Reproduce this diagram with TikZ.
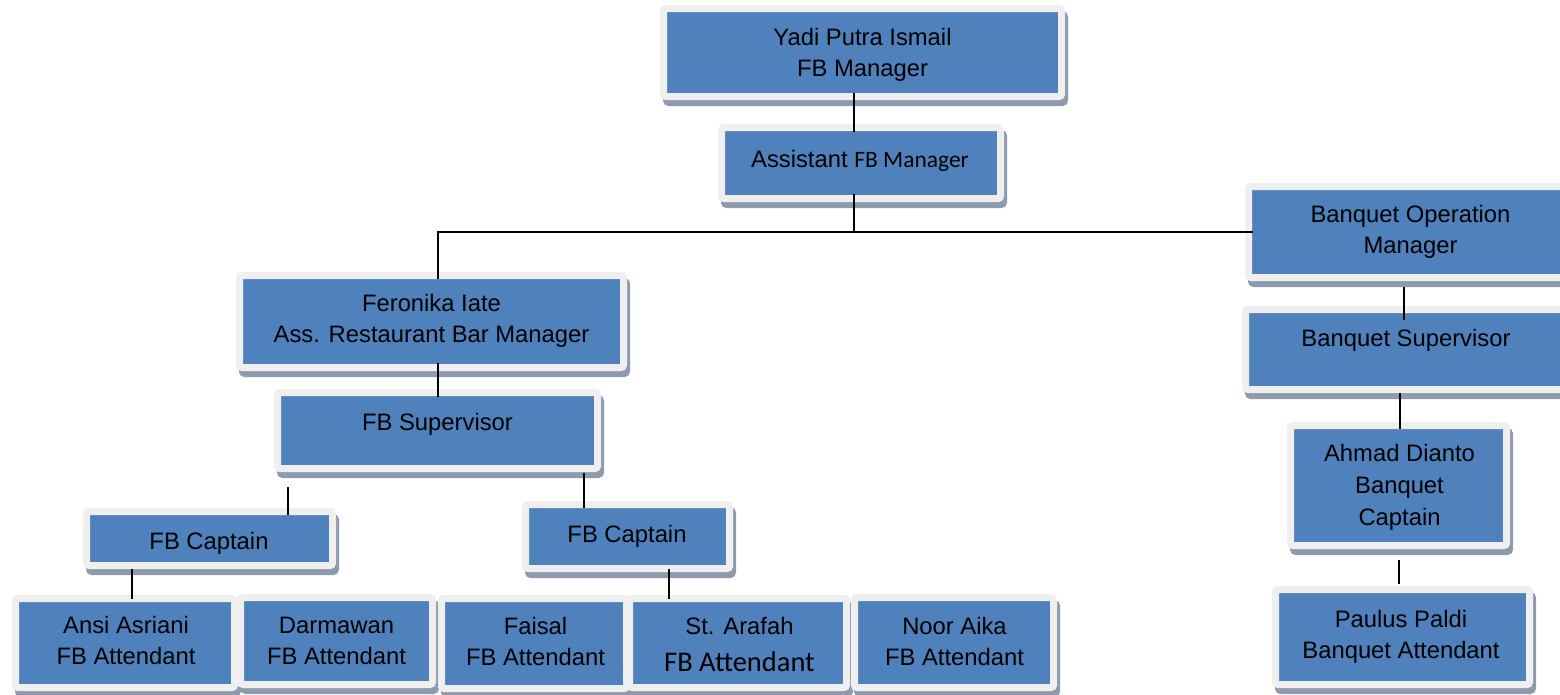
\documentclass[tikz,border=0pt]{standalone}
\usepackage{fontspec}
\setmainfont{Liberation Sans}
\newfontfamily\calib{Carlito}
\definecolor{boxblue}{HTML}{4F81BD}
\definecolor{framec}{HTML}{EFEFEF}
\definecolor{shadowc}{HTML}{8E9BAF}
\newcommand\orgbox[5]{%
  \pgfmathsetmacro\obW{#4-#2-7}%
  \pgfmathsetmacro\obH{#5-#3-7}%
  \pgfmathsetmacro\obX{(#2+#4)/2}%
  \pgfmathsetmacro\obY{(#3+#5)/2}%
  \node[boxstyle, minimum width=\obW pt, minimum height=\obH pt] (#1) at (\obX,\obY) {};%
}
\begin{document}
\begin{tikzpicture}[x=1pt,y=-1pt,
  boxstyle/.style={rectangle, fill=boxblue, draw=framec, line width=7pt,
    rounded corners=2.5pt, inner sep=0pt, outer sep=0pt,
    preaction={fill=shadowc, draw=shadowc, transform canvas={shift={(3pt,-6pt)}}}},
  txt/.style={align=center, inner sep=0pt, text=black, yshift=-3.5pt,
    font=\fontsize{23.8}{31}\selectfont,
    execute at begin node=\strut, execute at end node=\strut},
  conn/.style={line width=1.6pt, draw=black}]
\useasboundingbox (0,0) rectangle (1560,694);
\fill[white] (0,0) rectangle (1560,694);
% boxes (outer frame coordinates)
\orgbox{top}{660}{5}{1065}{100}
\orgbox{asst}{718}{124}{1004}{202}
\orgbox{bom}{1245}{183}{1575}{281}
\orgbox{bsup}{1242}{306}{1575}{393}
\orgbox{fer}{236}{272}{627}{371}
\orgbox{sup}{274}{389}{601}{472}
\orgbox{cap1}{83}{508}{336}{569}
\orgbox{cap2}{522}{501}{733}{572}
\orgbox{ansi}{12}{595}{238}{691}
\orgbox{darm}{237}{594}{436}{688}
\orgbox{fais}{438}{595}{630}{692}
\orgbox{araf}{626}{595}{850}{691}
\orgbox{noor}{851}{594}{1057}{691}
\orgbox{ahmad}{1287}{422}{1510}{549}
\orgbox{paulus}{1272}{586}{1533}{688}
% texts
\node[txt] (t-top) at (862.5,53.8) {Yadi Putra Ismail\\FB Manager};
\node[txt] (t-asst) at (860,157.8) {Assistant {\calib\fontsize{23.5}{31}\selectfont FB Manager}};
\node[txt] (t-bom) at (1410.5,231) {Banquet Operation\\Manager};
\node[txt] (t-bsup) at (1406,336.8) {Banquet Supervisor};
\node[txt] (t-fer) at (431.5,319.6) {Feronika Iate\\Ass. Restaurant Bar Manager};
\node[txt] (t-sup) at (437.5,420.8) {FB Supervisor};
\node[txt] (t-cap1) at (209,539.5) {FB Captain};
\node[txt] (t-cap2) at (627,532.8) {FB Captain};
\node[txt] (t-ansi) at (126,641.6) {Ansi Asriani\\FB Attendant};
\node[txt] (t-darm) at (336.5,641.6) {Darmawan\\FB Attendant};
\node[txt] (t-fais) at (535.5,642.1) {Faisal\\FB Attendant};
\node[txt] (t-araf) at (739.5,645.4) {St. Arafah\\[5.7pt]{\calib\fontsize{28.5}{31}\selectfont FB Attendant}};
\node[txt] (t-noor) at (954.5,642.1) {Noor Aika\\FB Attendant};
\node[txt, font=\fontsize{23.8}{31.7}\selectfont] (t-ahmad) at (1399.5,486.1) {Ahmad Dianto\\Banquet\\Captain};
\node[txt] (t-paulus) at (1401,635.4) {Paulus Paldi\\Banquet Attendant};
% connectors
\coordinate (xa) at (854,0);
\draw[conn, shorten <=-3.5pt, shorten >=-4.5pt] (xa |- top.south) -- (xa |- asst.north);
\draw[conn, shorten <=-4.5pt] (xa |- asst.south) -- (xa |- bom.west);
\coordinate (xb) at (438,0);
\draw[conn, shorten <=-3.5pt, shorten >=-4.5pt] (xb |- fer.north) -- (xb |- bom.west) -- (bom.west);
\draw[conn, shorten <=-4.5pt, shorten >=-4.5pt] (xb |- fer.south) -- (xb |- sup.north);
\coordinate (xc) at (288,487);
\draw[conn, shorten >=-3.5pt] (xc) -- (xc |- cap1.north);
\coordinate (xd) at (584,0);
\draw[conn, shorten <=4pt, shorten >=-3.5pt] (xd |- sup.south) -- (xd |- cap2.north);
\coordinate (xe) at (132,0);
\draw[conn, shorten <=3.5pt] (xe |- cap1.south) -- (xe |- ansi.north);
\coordinate (xf) at (669,0);
\draw[conn] (xf |- cap2.south) -- (xf |- araf.north);
\coordinate (xg) at (1404,0);
\draw[conn, shorten <=9.5pt, shorten >=-10.5pt] (xg |- bom.south) -- (xg |- bsup.north);
\coordinate (xh) at (1400,0);
\draw[conn, shorten <=3.5pt, shorten >=-3.5pt] (xh |- bsup.south) -- (xh |- ahmad.north);
\coordinate (xi) at (1399,0);
\draw[conn, shorten <=14.5pt, shorten >=5.5pt] (xi |- ahmad.south) -- (xi |- paulus.north);
\end{tikzpicture}
\end{document}
